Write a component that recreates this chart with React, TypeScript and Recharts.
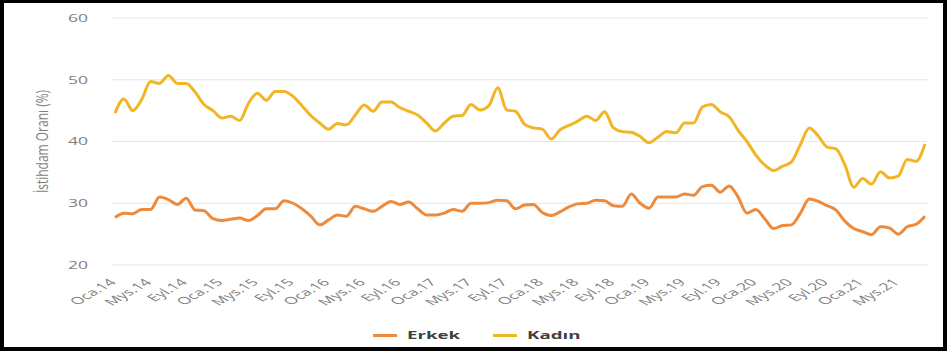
import { LineChart, Line, XAxis, YAxis, CartesianGrid, Legend } from 'recharts';

const monthNames = ['Oca', 'Şub', 'Mar', 'Nis', 'Mys', 'Haz', 'Tem', 'Ağu', 'Eyl', 'Eki', 'Kas', 'Ara'];
const years = ['14', '15', '16', '17', '18', '19', '20', '21'];
const yTicks = [20, 30, 40, 50, 60];

// Erkek / Kadın istihdam oranı, Oca.14 - Ağu.21 (monthly)
const erkek = [
  27.7, 28.4, 28.3, 29.0, 29.0, 31.0, 30.6, 29.8, 30.8, 28.9, 28.8, 27.5,
  27.2, 27.4, 27.6, 27.2, 28.0, 29.1, 29.1, 30.4, 30.0, 29.1, 27.9, 26.5,
  27.3, 28.1, 27.9, 29.5, 29.1, 28.7, 29.5, 30.3, 29.8, 30.2, 29.1, 28.1,
  28.1, 28.4, 29.0, 28.7, 30.0, 30.0, 30.1, 30.5, 30.4, 29.1, 29.7, 29.8,
  28.5, 28.0, 28.6, 29.4, 29.9, 30.0, 30.5, 30.4, 29.6, 29.5, 31.5, 30.0,
  29.2, 31.0, 31.0, 31.0, 31.5, 31.3, 32.7, 32.9, 31.8, 32.8, 31.0, 28.4,
  29.0, 27.5, 25.9, 26.4, 26.5, 28.4, 30.7, 30.3, 29.6, 28.9, 27.1, 25.9,
  25.4, 24.9, 26.2, 26.0, 25.0, 26.2, 26.6, 27.9,
];
const kadin = [
  44.6, 46.9, 45.0, 46.8, 49.7, 49.4, 50.7, 49.4, 49.4, 48.0, 46.0, 45.0,
  43.8, 44.1, 43.4, 46.2, 47.8, 46.7, 48.1, 48.1, 47.3, 45.8, 44.2, 43.0,
  42.0, 42.9, 42.7, 44.3, 45.9, 44.9, 46.4, 46.4, 45.5, 44.9, 44.3, 43.0,
  41.7, 43.0, 44.1, 44.2, 46.0, 45.1, 45.8, 48.7, 45.1, 44.9, 42.8, 42.2,
  42.0, 40.4, 41.9, 42.6, 43.3, 44.1, 43.4, 44.8, 42.2, 41.6, 41.5, 40.8,
  39.8, 40.7, 41.6, 41.4, 43.0, 43.0, 45.6, 46.0, 44.8, 44.0, 41.8, 40.0,
  37.8, 36.2, 35.3, 36.0, 36.7, 39.5, 42.2, 40.9, 39.1, 38.8, 36.2, 32.6,
  34.0, 33.1, 35.1, 34.1, 34.4, 37.1, 36.8, 39.6,
];

const data = erkek.map((v, i) => ({
  month: `${monthNames[i % 12]}.${years[Math.floor(i / 12)]}`,
  erkek: v,
  kadin: kadin[i],
}));

const FONT = "'Open Sans', 'DejaVu Sans', sans-serif";
const STRETCH = 1.75; // the source picture is stretched sideways
const ERKEK_COLOR = '#ee8a3c';
const KADIN_COLOR = '#f2b526';

function XTick({ x, y, payload }: any) {
  return (
    <g transform={`translate(${x + 2},${y + 10}) scale(${STRETCH},1)`}>
      <text x={0} y={0} textAnchor="end" transform="rotate(-45)" fill="#7f7f7f" fontSize={10} fontFamily={FONT}>
        {payload.value}
      </text>
    </g>
  );
}

function YTick({ x, y, payload }: any) {
  return (
    <g transform={`translate(${x},${y}) scale(${STRETCH},1)`}>
      <text x={0} y={0} textAnchor="end" dominantBaseline="central" fill="#7f7f7f" fontSize={10} fontFamily={FONT}>
        {payload.value}
      </text>
    </g>
  );
}

function YLabel({ viewBox }: any) {
  const cx = viewBox.x + 41;
  const cy = viewBox.y + viewBox.height / 2;
  return (
    <g transform={`translate(${cx},${cy}) scale(1.4,1) rotate(-90)`}>
      <text x={0} y={0} textAnchor="middle" dominantBaseline="central" fill="#7f7f7f" fontSize={12} fontFamily={FONT}>
        İstihdam Oranı (%)
      </text>
    </g>
  );
}

function LegendContent({ payload }: any) {
  return (
    <div style={{ display: 'flex', alignItems: 'center', height: 20, paddingLeft: 373 }}>
      {(payload || []).map((p: any, i: number) => (
        <div key={p.value} style={{ display: 'flex', alignItems: 'center', marginRight: i === 0 ? 35 : 0 }}>
          <div style={{ width: 24, height: 3, background: p.color, marginRight: 10 }} />
          <div style={{ width: 51, height: 20, overflow: 'visible' }}>
            <span
              style={{
                display: 'inline-block',
                transform: `scaleX(1.7)`,
                transformOrigin: 'left center',
                fontFamily: FONT,
                fontWeight: 700,
                fontSize: 11,
                lineHeight: '20px',
                color: '#3f3f3f',
                whiteSpace: 'nowrap',
              }}
            >
              {p.value}
            </span>
          </div>
        </div>
      ))}
    </div>
  );
}

export default function App() {
  return (
    <div style={{ position: 'fixed', left: 0, top: 0, width: 949, height: 351, background: '#fff' }}>
      <LineChart width={949} height={351} data={data} margin={{ top: 18, right: 21, left: 0, bottom: 6 }}>
        <CartesianGrid vertical={false} stroke="#e6e6e6" strokeWidth={1} />
        <XAxis
          dataKey="month"
          interval={3}
          axisLine={false}
          tickLine={false}
          height={60}
          padding={{ left: 3, right: 3 }}
          tick={<XTick />}
        />
        <YAxis
          domain={[20, 60]}
          ticks={yTicks}
          width={112}
          axisLine={false}
          tickLine={false}
          tickMargin={18}
          tick={<YTick />}
          label={<YLabel />}
        />
        <Legend verticalAlign="bottom" height={20} content={<LegendContent />} />
        <Line
          type="monotone"
          dataKey="erkek"
          name="Erkek"
          stroke={ERKEK_COLOR}
          strokeWidth={3}
          dot={false}
          isAnimationActive={false}
        />
        <Line
          type="monotone"
          dataKey="kadin"
          name="Kadın"
          stroke={KADIN_COLOR}
          strokeWidth={3}
          dot={false}
          isAnimationActive={false}
        />
      </LineChart>
      <div
        style={{
          position: 'absolute',
          left: 0,
          top: 0,
          width: 947,
          height: 351,
          boxSizing: 'border-box',
          borderStyle: 'solid',
          borderColor: '#000',
          borderWidth: '3px 4px 4px 4px',
          pointerEvents: 'none',
        }}
      />
    </div>
  );
}
